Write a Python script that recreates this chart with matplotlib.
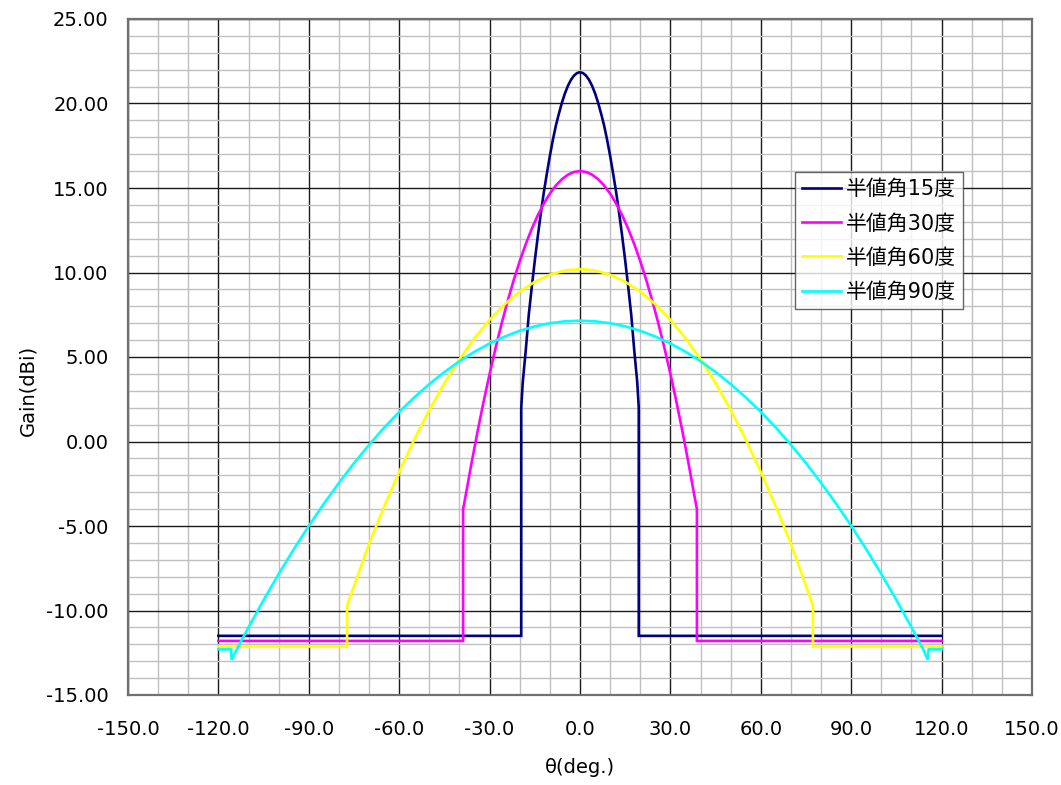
import matplotlib
matplotlib.use("Agg")
import matplotlib.pyplot as plt
from matplotlib.ticker import MultipleLocator, FormatStrFormatter

plt.rcParams['font.family'] = ['DejaVu Sans', 'Noto Sans CJK JP']

# ---- data ----
labels = ["半値角15度", "半値角30度", "半値角60度", "半値角90度"]
colors = ["#000080", "#FF00FF", "#FFFF00", "#00FFFF"]

# 15 deg beam
theta15 = [-120, -19.5, -19.5, -19, -18, -17, -16, -15, -14, -13, -12, -11, -10, -9, -8, -7, -6, -5, -4, -3, -2, -1, 0,
           1, 2, 3, 4, 5, 6, 7, 8, 9, 10, 11, 12, 13, 14, 15, 16, 17, 18, 19, 19.5, 19.5, 120]
gain15 = [-11.5, -11.5, 2.0, 3.5, 5.4, 7.5, 9.15, 10.7, 12.15, 13.5, 14.75, 15.85, 16.9, 17.85, 18.7, 19.4, 20.05, 20.6, 21.05, 21.4, 21.65, 21.8, 21.85,
          21.8, 21.65, 21.4, 21.05, 20.6, 20.05, 19.4, 18.7, 17.85, 16.9, 15.85, 14.75, 13.5, 12.15, 10.7, 9.15, 7.5, 5.4, 3.5, 2.0, -11.5, -11.5]

# 30 deg beam
theta30 = [-120, -38.8, -38.8, -38, -36, -34, -32, -30, -28, -26, -24, -22, -20, -18, -16, -14, -12, -10, -8, -6, -4, -2, 0,
           2, 4, 6, 8, 10, 12, 14, 16, 18, 20, 22, 24, 26, 28, 30, 32, 34, 36, 38, 38.8, 38.8, 120]
gain30 = [-11.8, -11.8, -4.0, -3.25, -1.28, 0.59, 2.35, 4.0, 5.55, 6.99, 8.32, 9.55, 10.67, 11.68, 12.59, 13.39, 14.08, 14.67, 15.15, 15.52, 15.79, 15.95, 16.0,
          15.95, 15.79, 15.52, 15.15, 14.67, 14.08, 13.39, 12.59, 11.68, 10.67, 9.55, 8.32, 6.99, 5.55, 4.0, 2.35, 0.59, -1.28, -3.25, -4.0, -11.8, -11.8]

# 60 deg beam
theta60 = [-120, -77.3, -77.3, -75, -70, -65, -60, -55, -50, -45, -40, -35, -30, -25, -20, -15, -10, -5, 0,
           5, 10, 15, 20, 25, 30, 35, 40, 45, 50, 55, 60, 65, 70, 75, 77.3, 77.3, 120]
gain60 = [-12.13, -12.13, -9.7, -8.55, -6.05, -3.85, -1.8, 0.12, 1.87, 3.45, 4.87, 6.12, 7.2, 8.12, 8.87, 9.45, 9.87, 10.12, 10.2,
          10.12, 9.87, 9.45, 8.87, 8.12, 7.2, 6.12, 4.87, 3.45, 1.87, 0.12, -1.8, -3.85, -6.05, -8.55, -9.7, -12.13, -12.13]

# 90 deg beam
theta90 = [-120, -115.8, -115.6, -114, -110, -105, -100, -95, -90, -85, -80, -75, -70, -65, -60, -55, -50, -45, -40, -35, -30, -25, -20, -15, -10, -5, 0,
           5, 10, 15, 20, 25, 30, 35, 40, 45, 50, 55, 60, 65, 70, 75, 80, 85, 90, 95, 100, 105, 110, 114, 115.4, 115.7, 120]
gain90 = [-12.3, -12.3, -12.92, -12.33, -10.99, -9.38, -7.84, -6.38, -4.99, -3.68, -2.45, -1.28, -0.2, 0.82, 1.75, 2.61, 3.4, 4.11, 4.75, 5.31, 5.8, 6.21, 6.55, 6.81, 7.0, 7.11, 7.15,
          7.11, 7.0, 6.81, 6.55, 6.21, 5.8, 5.31, 4.75, 4.11, 3.4, 2.61, 1.75, 0.82, -0.2, -1.28, -2.45, -3.68, -4.99, -6.38, -7.84, -9.38, -10.99, -12.33, -12.92, -12.3, -12.3]

series = [(theta15, gain15), (theta30, gain30), (theta60, gain60), (theta90, gain90)]

# ---- figure ----
W, H = 1061, 785
fig = plt.figure(figsize=(W / 100, H / 100), dpi=100)
ax = fig.add_axes([128 / W, (H - 695) / H, (1032 - 128) / W, (695 - 19) / H])

for (t, g), c, lab in zip(series, colors, labels):
    ax.plot(t, g, color=c, lw=1.9, label=lab, solid_joinstyle='miter', zorder=3)

ax.set_xlim(-150, 150)
ax.set_ylim(-15, 25)
ax.xaxis.set_major_locator(MultipleLocator(30))
ax.xaxis.set_minor_locator(MultipleLocator(10))
ax.yaxis.set_major_locator(MultipleLocator(5))
ax.yaxis.set_minor_locator(MultipleLocator(1))
ax.xaxis.set_major_formatter(FormatStrFormatter('%.1f'))
ax.yaxis.set_major_formatter(FormatStrFormatter('%.2f'))

ax.grid(which='minor', color='#c0c0c0', lw=1.0, zorder=0)
ax.grid(which='major', color='#1a1a1a', lw=1.0, zorder=1)
ax.set_axisbelow(True)

ax.tick_params(which='both', length=0)
ax.tick_params(axis='x', labelsize=14, pad=18)
ax.tick_params(axis='y', labelsize=14, pad=14)

for s in ax.spines.values():
    s.set_color('#707070')
    s.set_linewidth(1.6)

ax.set_xlabel('θ(deg.)', fontsize=14, labelpad=14)
ax.set_ylabel('Gain(dBi)', fontsize=14)
ax.yaxis.set_label_coords(-0.1, 0.45)

leg = ax.legend(loc='upper left', bbox_to_anchor=((795 - 128) / 904, (695 - 172) / 676),
                borderaxespad=0, fontsize=15, frameon=True, fancybox=False,
                handlelength=1.85, handletextpad=0.25, labelspacing=0.68, borderpad=0.35)
leg.get_frame().set_edgecolor('#404040')
leg.get_frame().set_linewidth(1.0)

fig.savefig('out.png', dpi=100)
